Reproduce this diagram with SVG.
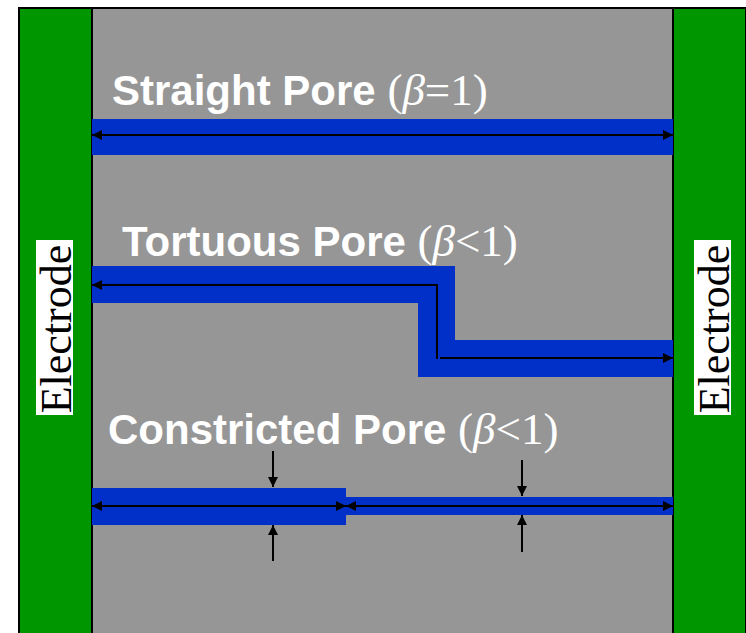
<svg xmlns="http://www.w3.org/2000/svg" width="746" height="633" viewBox="0 0 746 633">
<defs>
<marker id="ah" viewBox="0 0 10 10" refX="10" refY="5" markerWidth="10" markerHeight="10" markerUnits="userSpaceOnUse" orient="auto-start-reverse">
<path d="M0,0 L10,5 L0,10 Z" fill="#000"/>
</marker>
</defs>
<style>
.pore{fill:#0030c8}
.elec{fill:#009600;stroke:#000;stroke-width:2}
.lbl{fill:#fff;font-family:"Liberation Sans",Arial,sans-serif;font-weight:bold;font-size:42px}
.sym{fill:#fff;font-family:"Liberation Serif","Times New Roman",serif;font-size:45px;font-weight:normal}
.etxt{font-family:"Liberation Serif","Times New Roman",serif;font-size:44px;fill:#000}
.ln{stroke:#000;stroke-width:2;fill:none}
</style>
<rect width="746" height="633" fill="#fff"/>
<rect x="92" y="8" width="581" height="630" fill="#969696"/>
<line x1="19" y1="8" x2="745" y2="8" stroke="#000" stroke-width="2"/>
<g id="electrode-left">
<rect class="elec" x="19" y="8" width="73" height="630"/>
<rect x="36" y="240" width="37" height="175" fill="#fff"/>
<text class="etxt" transform="translate(71,329) rotate(-90)" text-anchor="middle">Electrode</text>
</g>
<g id="electrode-right">
<rect class="elec" x="673" y="8" width="73" height="630"/>
<rect x="694" y="240" width="37" height="175" fill="#fff"/>
<text class="etxt" transform="translate(729,329) rotate(-90)" text-anchor="middle">Electrode</text>
</g>
<g id="straight-pore">
<rect class="pore" x="92" y="119" width="581" height="36"/>
<text x="112" y="105"><tspan class="lbl">Straight Pore </tspan><tspan class="sym">(<tspan font-style="italic">β</tspan>=1)</tspan></text>
</g>
<g id="tortuous-pore">
<path class="pore" d="M92,266 H455 V340 H673 V377 H418 V303 H92 Z"/>
<text x="122" y="256"><tspan class="lbl">Tortuous Pore </tspan><tspan class="sym">(<tspan font-style="italic">β</tspan>&lt;1)</tspan></text>
</g>
<g id="constricted-pore">
<rect class="pore" x="92" y="488" width="254" height="37"/>
<rect class="pore" x="346" y="497" width="327" height="18"/>
<text x="108" y="444"><tspan class="lbl">Constricted Pore </tspan><tspan class="sym">(<tspan font-style="italic">β</tspan>&lt;1)</tspan></text>
</g>
<g id="connectors">
<line class="ln" x1="92" y1="135" x2="673" y2="135" marker-start="url(#ah)" marker-end="url(#ah)"/>
<path class="ln" d="M92,285 H437 V359" marker-start="url(#ah)"/>
<line class="ln" x1="440" y1="358" x2="673" y2="358" marker-end="url(#ah)"/>
<line class="ln" x1="92" y1="506" x2="346" y2="506" marker-start="url(#ah)" marker-end="url(#ah)"/>
<line class="ln" x1="346" y1="506" x2="673" y2="506" marker-start="url(#ah)" marker-end="url(#ah)"/>
<line class="ln" x1="273" y1="451" x2="273" y2="487" marker-end="url(#ah)"/>
<line class="ln" x1="273" y1="561" x2="273" y2="525" marker-end="url(#ah)"/>
<line class="ln" x1="522" y1="460" x2="522" y2="496" marker-end="url(#ah)"/>
<line class="ln" x1="522" y1="552" x2="522" y2="515" marker-end="url(#ah)"/>
</g>
</svg>
